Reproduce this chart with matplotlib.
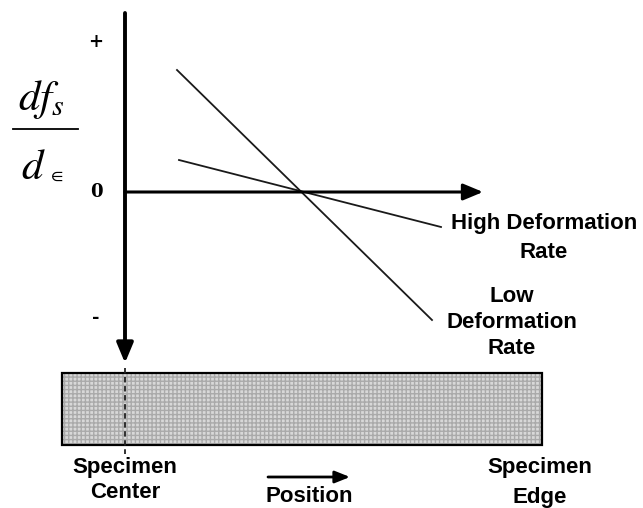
import matplotlib.pyplot as plt
from matplotlib.patches import Rectangle

plt.rcParams['font.family'] = ['Liberation Sans', 'DejaVu Sans']
plt.rcParams['mathtext.fontset'] = 'stix'

# schematic data: position from specimen center (0) and d f_s / d eps (0 = axis)
position_low = [52, 307]
dfde_low = [122, -128]
position_high = [54, 316]
dfde_high = [32, -35]

sign_labels = ['+', '0', '-']
sign_values = [150, 0, -126]

# label stacks: (x, first line y, line step, lines)
label_stacks = [
    (419, -31, 29, ['High Deformation', 'Rate']),
    (387, -105, 25.5, ['Low', 'Deformation', 'Rate']),
    (0, -275, 26, ['Specimen', 'Center']),
    (415, -276, 29, ['Specimen', 'Edge']),
    (184, -305, 0, ['Position']),
]

specimen_left, specimen_right = -63, 417

fig = plt.figure(figsize=(6.43, 5.08), dpi=100)
ax = fig.add_axes([0, 0, 1, 1])
ax.set_xlim(-125, 518)
ax.set_ylim(-316, 192)
ax.axis('off')

head = '-|>,head_length=0.6,head_width=0.25'
# axes
ax.annotate('', xy=(0, -171), xytext=(0, 179),
            arrowprops=dict(arrowstyle=head, lw=2.8, color='black', mutation_scale=20,
                            shrinkA=0, shrinkB=0))
ax.annotate('', xy=(358, 0), xytext=(0, 0),
            arrowprops=dict(arrowstyle=head, lw=2.2, color='black', mutation_scale=20,
                            shrinkA=0, shrinkB=0))

# curves
ax.plot(position_low, dfde_low, color='#1a1a1a', lw=1.3)
ax.plot(position_high, dfde_high, color='#1a1a1a', lw=1.3)

# sign marks on vertical axis
for s, v in zip(sign_labels, sign_values):
    ax.text(-29, v, s, ha='center', va='center', fontsize=13, fontweight='bold',
            family='DejaVu Serif')

# y label as a fraction
ax.text(-84, 82, r'$df_s$', ha='center', va='baseline', fontsize=31)
ax.plot([-112, -47], [63, 63], color='black', lw=1.3)
ax.text(-92, 13, r'$d$', ha='center', va='baseline', fontsize=31)
ax.text(-69, 11, r'$\in$', ha='center', va='baseline', fontsize=13)

# specimen bar
ax.add_patch(Rectangle((specimen_left, -253), specimen_right - specimen_left, 72,
                       facecolor='#d8d8d8', edgecolor='#aaaaaa', hatch='++++', lw=0))
ax.add_patch(Rectangle((specimen_left, -253), specimen_right - specimen_left, 72,
                       facecolor='none', edgecolor='black', lw=1.6))
ax.plot([0, 0], [-176, -262], color='#222222', lw=1.3, ls=(0, (3, 2)))

# position arrow
ax.annotate('', xy=(225, -285), xytext=(143, -285),
            arrowprops=dict(arrowstyle='-|>,head_length=0.5,head_width=0.2', lw=2.0,
                            color='black', mutation_scale=18, shrinkA=0, shrinkB=0))

for x, y0, step, lines in label_stacks:
    for i, t in enumerate(lines):
        ax.text(x, y0 - i * step, t, ha='center', va='center', fontsize=16,
                fontweight='bold')

fig.savefig('out.png', dpi=100)
